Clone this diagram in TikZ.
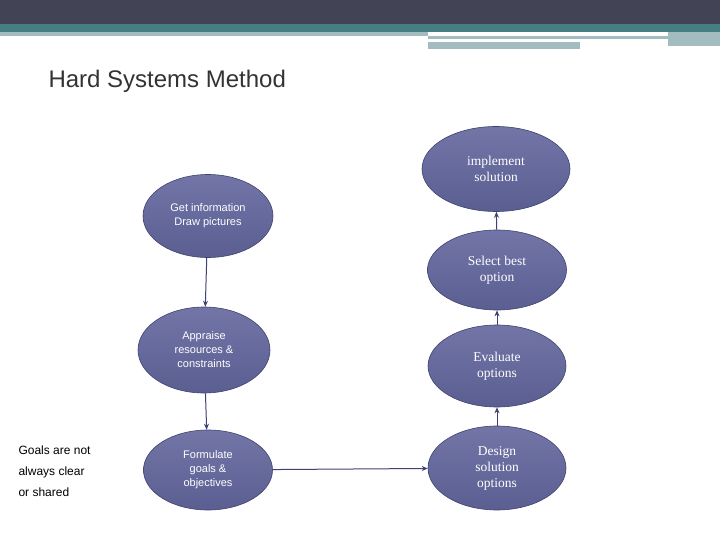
\documentclass[tikz,border=0pt]{standalone}
\usepackage{fontspec}
\setmainfont{Liberation Sans}
\newfontfamily\serifcamb{Liberation Serif}
\usetikzlibrary{shapes.geometric,arrows.meta}
\definecolor{ellfill}{HTML}{5B5E91}
\definecolor{ellfilltop}{HTML}{7275A6}
\definecolor{ellline}{HTML}{3F4270}
\definecolor{banner}{HTML}{424456}
\definecolor{teal1}{HTML}{467F83}
\definecolor{teal2}{HTML}{A3BCBF}
\tikzset{
 ell/.style={ellipse, draw=ellline, line width=0.6pt, top color=ellfilltop, bottom color=ellfill, text=white, align=center, inner sep=0pt},
 sans/.style={font=\fontsize{11}{14}\selectfont},
 serif/.style={font=\serifcamb\fontsize{13.5}{16}\selectfont},
 conn/.style={draw=ellline, line width=1pt, -{Stealth[length=6pt,width=5pt]}}
}
\begin{document}
\begin{tikzpicture}[x=1pt,y=-1pt]
\useasboundingbox (0,0) rectangle (720,540);
\fill[white] (0,0) rectangle (720,540);
\fill[banner] (0,0) rectangle (720,24);
\fill[teal1] (0,24) rectangle (720,32);
\fill[teal2] (0,32) rectangle (428,36);
\fill[teal2] (428,36) rectangle (668,39);
\fill[teal2] (428,42) rectangle (580,49);
\fill[teal2] (668,32) rectangle (720,46);
\node[anchor=west, font=\fontsize{24}{28}\selectfont, text=black!80] (title) at (45,81) {Hard Systems Method};
\node[ell, serif, minimum width=148pt, minimum height=85pt] (impl) at (496,169) {implement\\solution};
\node[ell, sans, minimum width=130pt, minimum height=83pt] (info) at (208,216) {Get information\\Draw pictures};
\node[ell, serif, minimum width=139pt, minimum height=80pt] (sel) at (497,270) {Select best\\option};
\node[ell, sans, minimum width=132pt, minimum height=86pt] (appr) at (204,350) {Appraise\\resources \&\\constraints};
\node[ell, serif, minimum width=138pt, minimum height=82pt] (eval) at (497,366) {Evaluate\\options};
\node[ell, sans, minimum width=129pt, minimum height=80pt] (form) at (208,470) {Formulate\\goals \&\\objectives};
\node[ell, serif, minimum width=138pt, minimum height=84pt] (des) at (497,468) {Design\\solution\\options};
\node[anchor=west, align=left, font=\fontsize{12}{21}\selectfont] (goals) at (15,471) {Goals are not\\always clear\\or shared};
\draw[conn] (info) -- (appr);
\draw[conn] (appr) -- (form);
\draw[conn] (form) -- (des);
\draw[conn] (des) -- (eval);
\draw[conn] (eval) -- (sel);
\draw[conn] (sel) -- (impl);
\end{tikzpicture}
\end{document}
